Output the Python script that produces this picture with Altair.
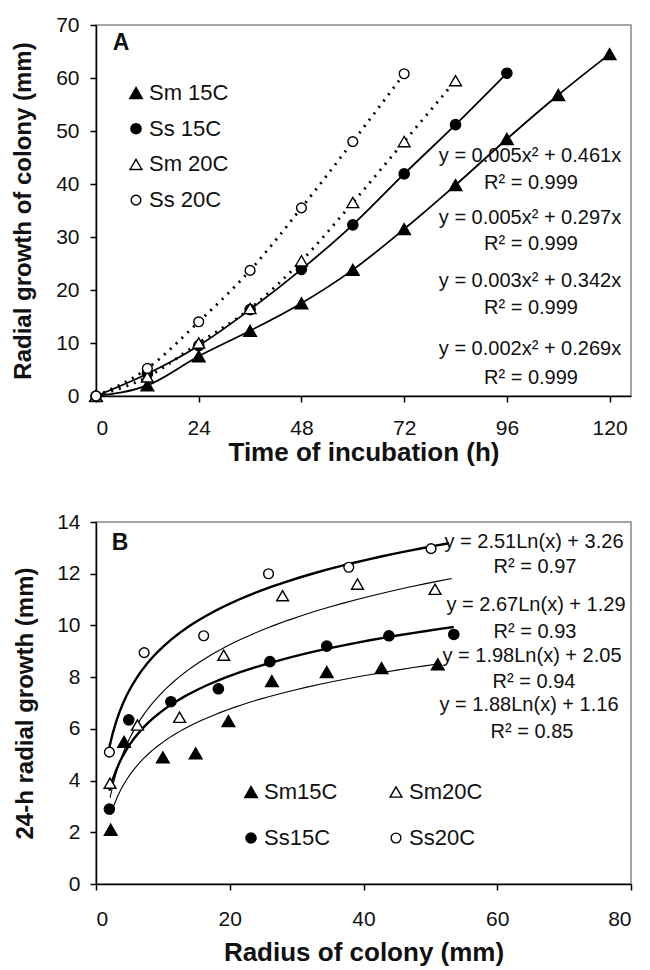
import altair as alt
import pandas as pd

FONT = "Liberation Sans"

# ---------------- Panel A data ----------------
time_h = [0, 12, 24, 36, 48, 60, 72, 84, 96, 108, 120]
sm15_a = [0, 2.0, 7.5, 12.3, 17.5, 23.8, 31.5, 39.8, 48.5, 56.8, 64.5]
ss15_a = [0, 4.2, 9.5, 16.3, 23.9, 32.3, 41.9, 51.2, 60.9]
sm20_a = [0, 3.6, 10.0, 16.5, 25.5, 36.5, 48.0, 59.5]
ss20_a = [0, 5.2, 14.0, 23.7, 35.5, 48.0, 60.8]
eq_a = ["y = 0.005x² + 0.461x", "y = 0.005x² + 0.297x",
        "y = 0.003x² + 0.342x", "y = 0.002x² + 0.269x"]
r2_a = ["R² = 0.999", "R² = 0.999", "R² = 0.999", "R² = 0.999"]
x_ticks_a = [0, 24, 48, 72, 96, 120]
y_ticks_a = [0, 10, 20, 30, 40, 50, 60, 70]

# ---------------- Panel B data ----------------
sm15_bx = [2.2, 4.2, 10.0, 14.9, 19.8, 26.3, 34.5, 42.7, 51.1]
sm15_by = [2.1, 5.5, 4.9, 5.05, 6.3, 7.85, 8.2, 8.35, 8.5]
ss15_bx = [2.0, 4.9, 11.2, 18.3, 26.0, 34.5, 43.8, 53.5]
ss15_by = [2.9, 6.35, 7.05, 7.55, 8.6, 9.2, 9.6, 9.65]
sm20_bx = [2.1, 6.2, 12.5, 19.1, 27.9, 39.1, 50.7]
sm20_by = [3.9, 6.15, 6.45, 8.85, 11.15, 11.6, 11.4]
ss20_bx = [2.0, 7.2, 16.1, 25.8, 37.8, 50.1]
ss20_by = [5.1, 8.95, 9.6, 12.0, 12.25, 12.97]
eq_b = ["y = 2.51Ln(x) + 3.26", "y = 2.67Ln(x) + 1.29",
        "y = 1.98Ln(x) + 2.05", "y = 1.88Ln(x) + 1.16"]
r2_b = ["R² = 0.97", "R² = 0.93", "R² = 0.94", "R² = 0.85"]
x_ticks_b = [0, 20, 40, 60, 80]
y_ticks_b = [0, 2, 4, 6, 8, 10, 12, 14]

WA, HA = 535, 371
WB, HB = 535, 362

STYLE = {
    "Sm15C": dict(shape="triangle-up", fill="black", size=160),
    "Ss15C": dict(shape="circle", fill="black", size=105),
    "Sm20C": dict(shape="triangle-up", fill="white", size=140),
    "Ss20C": dict(shape="circle", fill="white", size=95),
}


def point_layer(df, key, xenc, yenc):
    st = STYLE[key]
    return alt.Chart(df).mark_point(
        shape=st["shape"], filled=True, fill=st["fill"], stroke="black",
        strokeWidth=1.4, size=st["size"], opacity=1
    ).encode(x=xenc, y=yenc)


def text_px(s, x, y, size=20, align="center", weight="normal"):
    return alt.Chart(pd.DataFrame({"a": [0]})).mark_text(
        text=s, font=FONT, fontSize=size, fontWeight=weight, align=align,
        baseline="middle", color="#111"
    ).encode(x=alt.value(x), y=alt.value(y))


def marker_px(key, x, y):
    st = STYLE[key]
    return alt.Chart(pd.DataFrame({"a": [0]})).mark_point(
        shape=st["shape"], filled=True, fill=st["fill"], stroke="black",
        strokeWidth=1.4, size=st["size"], opacity=1
    ).encode(x=alt.value(x), y=alt.value(y))


# ---------------- Panel A ----------------
def dfa(vals):
    return pd.DataFrame({"t": time_h[:len(vals)], "g": vals})

xA = alt.X("t:Q", scale=alt.Scale(domain=[0, 125], nice=False),
           axis=alt.Axis(values=x_ticks_a, title="Time of incubation (h)",
                         labelPadding=15, titlePadding=1, titleFontSize=26))
yA = alt.Y("g:Q", scale=alt.Scale(domain=[0, 70], nice=False),
           axis=alt.Axis(values=y_ticks_a, title="Radial growth of colony (mm)",
                         labelPadding=11, titlePadding=20, titleFontSize=24))

layersA = []
series_a = [("Sm15C", sm15_a, None), ("Ss15C", ss15_a, None),
            ("Sm20C", sm20_a, [2, 6]), ("Ss20C", ss20_a, [2, 6])]
for key, vals, dash in series_a:
    kw = dict(interpolate="monotone", color="black",
              strokeWidth=2.8 if dash else 1.8)
    if dash:
        kw["strokeDash"] = dash
    layersA.append(alt.Chart(dfa(vals)).mark_line(**kw).encode(x=xA, y=yA))
for key, vals, dash in series_a:
    layersA.append(point_layer(dfa(vals), key, xA, yA))

# equations (pixel positions inside plot area)
eq_y = [131, 158, 193, 219, 256, 283, 324, 353]
for i in range(4):
    layersA.append(text_px(eq_a[i], 434, eq_y[2 * i]))
    layersA.append(text_px(r2_a[i], 435, eq_y[2 * i + 1]))

layersA.append(text_px("A", 25, 18, size=23, align="center", weight="bold"))
leg_a = [("Sm15C", "Sm 15C"), ("Ss15C", "Ss 15C"), ("Sm20C", "Sm 20C"), ("Ss20C", "Ss 20C")]
for i, (key, lab) in enumerate(leg_a):
    yy = 68 + i * 35.7
    layersA.append(marker_px(key, 40, yy))
    layersA.append(text_px(lab, 53, yy, size=22, align="left"))

chartA = alt.layer(*layersA).properties(width=WA, height=HA)

# ---------------- Panel B ----------------
xB = alt.X("r:Q", scale=alt.Scale(domain=[0, 80], nice=False),
           axis=alt.Axis(values=x_ticks_b, title="Radius of colony (mm)",
                         labelPadding=18, titlePadding=10, titleFontSize=26))
yB = alt.Y("v:Q", scale=alt.Scale(domain=[0, 14], nice=False),
           axis=alt.Axis(values=y_ticks_b, title="24-h radial growth (mm)",
                         labelPadding=10, titlePadding=19, titleFontSize=24))

series_b = [("Sm15C", sm15_bx, sm15_by, 1.1, [2.2, 51.1]),
            ("Ss15C", ss15_bx, ss15_by, 2.4, [2.0, 53.5]),
            ("Sm20C", sm20_bx, sm20_by, 1.1, [2.1, 53.2]),
            ("Ss20C", ss20_bx, ss20_by, 2.4, [2.0, 52.8])]
layersB = []
for key, xs, ys, sw, ext in series_b:
    df = pd.DataFrame({"r": xs, "v": ys})
    layersB.append(
        alt.Chart(df).transform_regression("r", "v", method="log", extent=ext)
        .mark_line(color="black", strokeWidth=sw).encode(x=xB, y=yB)
    )
for key, xs, ys, sw, ext in series_b:
    df = pd.DataFrame({"r": xs, "v": ys})
    layersB.append(point_layer(df, key, xB, yB))

eqb_y = [20, 45, 83, 110, 134, 160, 183, 210]
eqb_x = [438, 439, 440, 439, 436, 438, 433, 436]
for i in range(4):
    layersB.append(text_px(eq_b[i], eqb_x[2 * i], eqb_y[2 * i]))
    layersB.append(text_px(r2_b[i], eqb_x[2 * i + 1], eqb_y[2 * i + 1]))

layersB.append(text_px("B", 24, 21, size=23, align="center", weight="bold"))
leg_b = [("Sm15C", "Sm15C", 155, 270), ("Sm20C", "Sm20C", 300, 270),
         ("Ss15C", "Ss15C", 155, 316), ("Ss20C", "Ss20C", 300, 316)]
for key, lab, xx, yy in leg_b:
    layersB.append(marker_px(key, xx, yy))
    layersB.append(text_px(lab, xx + 13, yy, size=22, align="left"))

chartB = alt.layer(*layersB).properties(width=WB, height=HB)

chart = alt.vconcat(chartA, chartB, spacing=44).configure(
    background="white",
    padding={"left": 2, "top": 5, "right": 5, "bottom": 0}
).configure_axis(
    labelFont=FONT, labelFontSize=21, labelColor="#111",
    titleFont=FONT, titleFontSize=24, titleFontWeight="bold", titleColor="#111",
    domainColor="black", domainWidth=1.5, tickColor="black", tickWidth=1.5,
    tickSize=6, grid=False
).configure_view(stroke="#888", strokeWidth=1.5)

chart.save("out.html", embed_options={"renderer": "svg", "actions": False})
